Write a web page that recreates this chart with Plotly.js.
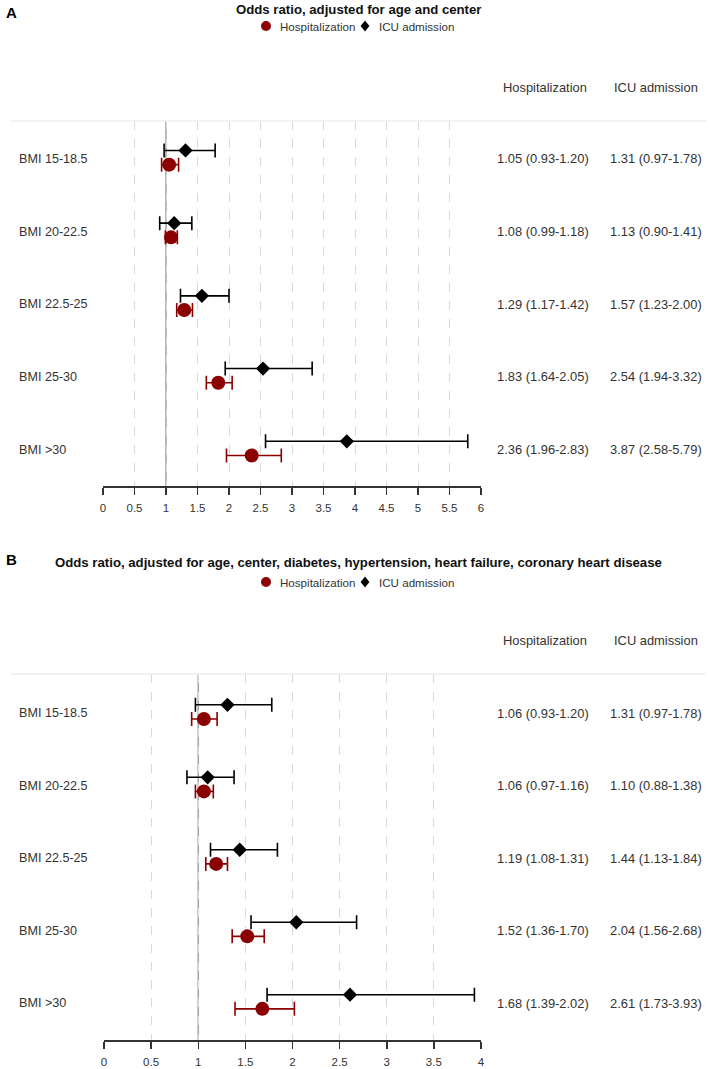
<!DOCTYPE html>
<html>
<head>
<meta charset="utf-8">
<script src="https://cdn.plot.ly/plotly-3.0.1.min.js"></script>
<style>html,body{margin:0;padding:0;background:#fff;}#chart{width:709px;height:1069px;}</style>
</head>
<body>
<div id="chart"></div>
<script>
// ---- data ----
var categories = ["BMI 15-18.5", "BMI 20-22.5", "BMI 22.5-25", "BMI 25-30", "BMI >30"];

// Panel A: adjusted for age and center
var hospA_or = [1.05, 1.08, 1.29, 1.83, 2.36];
var hospA_lo = [0.93, 0.99, 1.17, 1.64, 1.96];
var hospA_hi = [1.20, 1.18, 1.42, 2.05, 2.83];
var icuA_or  = [1.31, 1.13, 1.57, 2.54, 3.87];
var icuA_lo  = [0.97, 0.90, 1.23, 1.94, 2.58];
var icuA_hi  = [1.78, 1.41, 2.00, 3.32, 5.79];

// Panel B: adjusted for age, center, diabetes, hypertension, heart failure, CHD
var hospB_or = [1.06, 1.06, 1.19, 1.52, 1.68];
var hospB_lo = [0.93, 0.97, 1.08, 1.36, 1.39];
var hospB_hi = [1.20, 1.16, 1.31, 1.70, 2.02];
var icuB_or  = [1.31, 1.10, 1.44, 2.04, 2.61];
var icuB_lo  = [0.97, 0.88, 1.13, 1.56, 1.73];
var icuB_hi  = [1.78, 1.38, 1.84, 2.68, 3.93];

var xTicksA = [0, 0.5, 1, 1.5, 2, 2.5, 3, 3.5, 4, 4.5, 5, 5.5, 6];
var xTicksB = [0, 0.5, 1, 1.5, 2, 2.5, 3, 3.5, 4];

var titleA = "Odds ratio, adjusted for age and center";
var titleB = "Odds ratio, adjusted for age, center, diabetes, hypertension, heart failure, coronary heart disease";
var seriesNames = ["Hospitalization", "ICU admission"];
var panelLetters = ["A", "B"];

// ---- styling / layout helpers ----
var W = 709, H = 1069;
var RED = "#8B0000", BLK = "#000000", TXT = "#333333";
var FONT = "Liberation Sans, Arial, sans-serif";
function px(x) { return x / W; }
function py(y) { return 1 - y / H; }
var ICU_OFF = -0.115, HOSP_OFF = 0.08;

function fmt(o, l, h) { return o.toFixed(2) + " (" + l.toFixed(2) + "-" + h.toFixed(2) + ")"; }
function sub(a, b) { return a.map(function (v, i) { return v - b[i]; }); }
function idx(off) { return categories.map(function (c, i) { return i + off; }); }

function panelTraces(hor, hlo, hhi, ior, ilo, ihi, xa, ya) {
  return [
    {
      type: "scatter", mode: "markers", x: ior, y: idx(ICU_OFF), xaxis: xa, yaxis: ya,
      name: seriesNames[1], showlegend: false, hoverinfo: "x",
      marker: { symbol: "diamond", size: 11, color: BLK },
      error_x: { type: "data", symmetric: false, array: sub(ihi, ior), arrayminus: sub(ior, ilo),
                 color: BLK, thickness: 1.6, width: 7 }
    },
    {
      type: "scatter", mode: "markers", x: hor, y: idx(HOSP_OFF), xaxis: xa, yaxis: ya,
      name: seriesNames[0], showlegend: false, hoverinfo: "x",
      marker: { symbol: "circle", size: 14, color: RED },
      error_x: { type: "data", symmetric: false, array: sub(hhi, hor), arrayminus: sub(hor, hlo),
                 color: RED, thickness: 1.6, width: 7 }
    }
  ];
}

var data = []
  .concat(panelTraces(hospA_or, hospA_lo, hospA_hi, icuA_or, icuA_lo, icuA_hi, "x", "y"))
  .concat(panelTraces(hospB_or, hospB_lo, hospB_hi, icuB_or, icuB_lo, icuB_hi, "x2", "y2"));

function xAxis(domain, ticks, anchor) {
  return {
    domain: domain, anchor: anchor, range: [ticks[0], ticks[ticks.length - 1]],
    tickmode: "array", tickvals: ticks, ticktext: ticks.map(String),
    showline: true, linecolor: "#333", linewidth: 1.5,
    ticks: "outside", ticklen: 7, tickwidth: 1.5, tickcolor: "#333",
    ticklabelstandoff: 4,
    tickfont: { family: FONT, size: 11.5, color: TXT },
    showgrid: true, gridcolor: "#d9d9d9", gridwidth: 1, griddash: "dash",
    zeroline: false, fixedrange: true
  };
}
function yAxis(domain, range, anchor) {
  return { domain: domain, anchor: anchor, range: range, showticklabels: false, ticks: "",
           showgrid: false, zeroline: false, showline: false, fixedrange: true };
}

var annotations = [], shapes = [];

// manual legend: circle + text, diamond + text
function addLegend(y) {
  var r = 5, d = 5.5;
  shapes.push({ type: "circle", xref: "paper", yref: "paper",
    x0: px(266 - r), x1: px(266 + r), y0: py(y + r), y1: py(y - r),
    fillcolor: RED, line: { width: 0 } });
  var cx = 365;
  shapes.push({ type: "path", xref: "paper", yref: "paper",
    path: "M" + px(cx) + "," + py(y - d) + " L" + px(cx + d * 0.8) + "," + py(y) + " L" + px(cx) + "," + py(y + d) +
          " L" + px(cx - d * 0.8) + "," + py(y) + " Z",
    fillcolor: BLK, line: { width: 0 } });
  annotations.push({ xref: "paper", yref: "paper", x: px(278), y: py(y), xanchor: "left", yanchor: "middle",
    text: seriesNames[0], showarrow: false, font: { family: FONT, size: 11.6, color: TXT } });
  annotations.push({ xref: "paper", yref: "paper", x: px(377), y: py(y), xanchor: "left", yanchor: "middle",
    text: seriesNames[1], showarrow: false, font: { family: FONT, size: 11.6, color: TXT } });
}

function addPanel(letterY, titleY, legendY, headY, topY, yref, hor, hlo, hhi, ior, ilo, ihi, letter, title) {
  annotations.push({ xref: "paper", yref: "paper", x: px(4), y: py(letterY), xanchor: "left", yanchor: "middle",
    text: "<b>" + letter + "</b>", showarrow: false, font: { family: FONT, size: 15, color: "#000" } });
  annotations.push({ xref: "paper", yref: "paper", x: px(358), y: py(titleY), xanchor: "center", yanchor: "middle",
    text: "<b>" + title + "</b>", showarrow: false, font: { family: FONT, size: 13.2, color: "#111" } });
  addLegend(legendY);
  annotations.push({ xref: "paper", yref: "paper", x: px(545), y: py(headY), xanchor: "center", yanchor: "middle",
    text: seriesNames[0], showarrow: false, font: { family: FONT, size: 12.9, color: TXT } });
  annotations.push({ xref: "paper", yref: "paper", x: px(656), y: py(headY), xanchor: "center", yanchor: "middle",
    text: seriesNames[1], showarrow: false, font: { family: FONT, size: 12.9, color: TXT } });
  categories.forEach(function (c, i) {
    annotations.push({ xref: "paper", yref: yref, x: px(17), y: i, xanchor: "left", yanchor: "middle",
      text: c, showarrow: false, font: { family: FONT, size: 12.6, color: TXT } });
    annotations.push({ xref: "paper", yref: yref, x: px(543), y: i, xanchor: "center", yanchor: "middle",
      text: fmt(hor[i], hlo[i], hhi[i]), showarrow: false, font: { family: FONT, size: 12.9, color: TXT } });
    annotations.push({ xref: "paper", yref: yref, x: px(656), y: i, xanchor: "center", yanchor: "middle",
      text: fmt(ior[i], ilo[i], ihi[i]), showarrow: false, font: { family: FONT, size: 12.9, color: TXT } });
  });
  shapes.push({ type: "line", xref: "paper", yref: "paper", x0: px(11), x1: px(706), y0: py(topY), y1: py(topY),
    line: { color: "#eeeeee", width: 1.5 } });
}

addPanel(13, 9, 26, 87, 121, "y", hospA_or, hospA_lo, hospA_hi, icuA_or, icuA_lo, icuA_hi, panelLetters[0], titleA);
addPanel(559, 562, 582, 640, 674, "y2", hospB_or, hospB_lo, hospB_hi, icuB_or, icuB_lo, icuB_hi, panelLetters[1], titleB);

// reference lines at OR = 1
shapes.push({ type: "line", xref: "x", yref: "y domain", x0: 1, x1: 1, y0: 0, y1: 1, line: { color: "#a6a6a6", width: 1.6 }, layer: "below" });
shapes.push({ type: "line", xref: "x2", yref: "y2 domain", x0: 1, x1: 1, y0: 0, y1: 1, line: { color: "#a6a6a6", width: 1.6 }, layer: "below" });

var layout = {
  width: W, height: H, margin: { l: 0, r: 0, t: 0, b: 0 },
  paper_bgcolor: "#fff", plot_bgcolor: "#fff",
  font: { family: FONT, color: TXT },
  showlegend: false,
  xaxis: xAxis([px(103), px(481)], xTicksA, "y"),
  yaxis: yAxis([py(486), py(121)], [4.5, -0.52], "x"),
  xaxis2: xAxis([px(104), px(481)], xTicksB, "y2"),
  yaxis2: yAxis([py(1040), py(674)], [4.51, -0.54], "x2"),
  annotations: annotations,
  shapes: shapes
};

Plotly.newPlot("chart", data, layout, { displayModeBar: false, staticPlot: true });
</script>
</body>
</html>
